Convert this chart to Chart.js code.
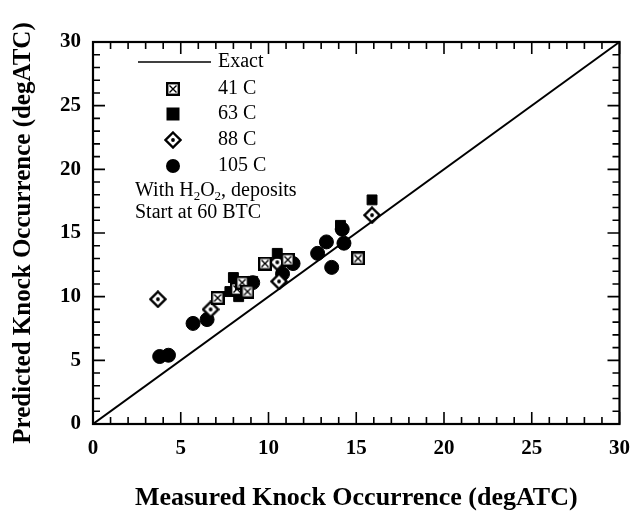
<!DOCTYPE html>
<html>
<head>
<meta charset="utf-8">
<script src="https://cdn.jsdelivr.net/npm/chart.js@4"></script>
<style>
  html, body { margin: 0; padding: 0; background: #fff; }
  #wrap { width: 642px; height: 511px; }
</style>
</head>
<body>
<div id="wrap"><canvas id="knockChart" width="642" height="511"></canvas></div>
<script>
// Exact line (y = x)
const exactX = [0, 30];
const exactY = [0, 30];

// 41 C
const c41X = [7.1, 8.2, 8.5, 8.8, 9.8, 11.1, 15.1];
const c41Y = [9.9, 10.6, 11.1, 10.4, 12.6, 12.9, 13.0];
// 63 C
const c63X = [7.8, 8.0, 8.3, 9.1, 10.5, 14.1, 15.9];
const c63Y = [10.4, 11.5, 10.0, 11.2, 13.4, 15.6, 17.6];
// 88 C
const c88X = [3.7, 6.7, 8.6, 10.5, 10.6, 15.9];
const c88Y = [9.8, 9.0, 10.7, 12.7, 11.2, 16.4];
// 105 C
const c105X = [3.8, 4.3, 5.7, 6.5, 9.1, 10.8, 11.4, 12.8, 13.3, 13.6, 14.3, 14.2];
const c105Y = [5.3, 5.4, 7.9, 8.2, 11.1, 11.8, 12.6, 13.4, 14.3, 12.3, 14.2, 15.3];

const axisTicks = [0, 5, 10, 15, 20, 25, 30];

const toPoints = (xs, ys) => xs.map((x, i) => ({ x: x, y: ys[i] }));

// marker images
function boxXMarker() {
    const c = document.createElement('canvas');
    c.width = 14; c.height = 14;
    const g = c.getContext('2d');
    g.strokeStyle = '#000';
    g.lineWidth = 2.4;
    g.fillStyle = '#fff';
    g.fillRect(1, 1, 12, 12);
    g.strokeRect(1.2, 1.2, 11.6, 11.6);
    g.lineWidth = 1.4;
    g.beginPath();
    g.moveTo(3.5, 3.5); g.lineTo(10.5, 10.5);
    g.moveTo(10.5, 3.5); g.lineTo(3.5, 10.5);
    g.stroke();
    return c;
}
function diamondMarker() {
    const c = document.createElement('canvas');
    c.width = 18; c.height = 18;
    const g = c.getContext('2d');
    g.strokeStyle = '#000';
    g.lineWidth = 2.4;
    g.fillStyle = '#fff';
    g.beginPath();
    g.moveTo(9, 1.5); g.lineTo(16.5, 9); g.lineTo(9, 16.5); g.lineTo(1.5, 9);
    g.closePath();
    g.fill();
    g.stroke();
    g.fillStyle = '#000';
    g.beginPath();
    g.arc(9, 9, 1.9, 0, Math.PI * 2);
    g.fill();
    return c;
}

const boxImg = boxXMarker();
const diaImg = diamondMarker();

const serif = "'Liberation Serif', 'DejaVu Serif', serif";

const frameAndTicks = {
    id: 'frameAndTicks',
    afterDatasetsDraw(chart) {
        const { ctx, chartArea: a, scales } = chart;
        ctx.save();
        ctx.strokeStyle = '#000';
        ctx.lineWidth = 1.6;
        for (let v = 0; v <= 30; v++) {
            const len = v % 5 === 0 ? 12 : 7;
            const px = scales.x.getPixelForValue(v);
            const py = scales.y.getPixelForValue(v);
            ctx.beginPath();
            ctx.moveTo(px, a.bottom); ctx.lineTo(px, a.bottom - len);
            ctx.moveTo(px, a.top); ctx.lineTo(px, a.top + len);
            ctx.moveTo(a.left, py); ctx.lineTo(a.left + len, py);
            ctx.moveTo(a.right, py); ctx.lineTo(a.right - len, py);
            ctx.stroke();
        }
        ctx.lineWidth = 2.2;
        ctx.strokeRect(a.left, a.top, a.right - a.left, a.bottom - a.top);
        ctx.restore();
    }
};

const insetLegend = {
    id: 'insetLegend',
    afterDraw(chart) {
        const { ctx, chartArea: a } = chart;
        const x0 = a.left;
        const y0 = a.top;
        const tx0 = x0 + 125;
        ctx.save();
        ctx.fillStyle = '#000';
        ctx.strokeStyle = '#000';
        ctx.font = '20px ' + serif;
        ctx.textBaseline = 'middle';
        // Exact
        ctx.lineWidth = 1.6;
        ctx.beginPath();
        ctx.moveTo(x0 + 45, y0 + 20); ctx.lineTo(x0 + 118, y0 + 20);
        ctx.stroke();
        ctx.fillText('Exact', tx0, y0 + 20);
        const mx = x0 + 80;
        // 41 C
        ctx.drawImage(boxImg, mx - 7, y0 + 47 - 7);
        ctx.fillText('41 C', tx0, y0 + 47);
        // 63 C
        ctx.fillRect(mx - 6.5, y0 + 72 - 6.5, 13, 13);
        ctx.fillText('63 C', tx0, y0 + 72);
        // 88 C
        ctx.drawImage(diaImg, mx - 9, y0 + 98 - 9);
        ctx.fillText('88 C', tx0, y0 + 98);
        // 105 C
        ctx.beginPath();
        ctx.arc(mx, y0 + 124, 7, 0, Math.PI * 2);
        ctx.fill();
        ctx.fillText('105 C', tx0, y0 + 124);
        // note
        let tx = x0 + 42;
        const ty = y0 + 149;
        const parts = [['With H', false], ['2', true], ['O', false], ['2', true], [', deposits', false]];
        parts.forEach(([t, sub]) => {
            ctx.font = (sub ? '13px ' : '20px ') + serif;
            ctx.fillText(t, tx, sub ? ty + 6 : ty);
            tx += ctx.measureText(t).width;
        });
        ctx.font = '20px ' + serif;
        ctx.fillText('Start at 60 BTC', x0 + 42, y0 + 171);
        ctx.restore();
    }
};

new Chart(document.getElementById('knockChart'), {
    type: 'scatter',
    data: {
        datasets: [
            {
                label: 'Exact',
                type: 'line',
                data: toPoints(exactX, exactY),
                borderColor: '#000',
                borderWidth: 2,
                pointRadius: 0,
                fill: false
            },
            {
                label: '41 C',
                data: toPoints(c41X, c41Y),
                pointStyle: boxImg
            },
            {
                label: '63 C',
                data: toPoints(c63X, c63Y),
                pointStyle: 'rect',
                pointRadius: 7,
                backgroundColor: '#000',
                borderColor: '#000'
            },
            {
                label: '88 C',
                data: toPoints(c88X, c88Y),
                pointStyle: diaImg
            },
            {
                label: '105 C',
                data: toPoints(c105X, c105Y),
                pointStyle: 'circle',
                pointRadius: 7,
                backgroundColor: '#000',
                borderColor: '#000'
            }
        ]
    },
    options: {
        responsive: false,
        animation: false,
        layout: { padding: { top: 42, right: 22, left: 0, bottom: 0 } },
        plugins: {
            legend: { display: false },
            tooltip: { enabled: false }
        },
        scales: {
            x: {
                type: 'linear',
                min: 0,
                max: 30,
                afterFit: s => { s.height = 87; },
                afterBuildTicks: s => { s.ticks = axisTicks.map(v => ({ value: v })); },
                grid: { display: false, drawTicks: false },
                border: { display: false },
                ticks: {
                    color: '#000',
                    padding: 12,
                    font: { family: serif, size: 21, weight: 'bold' }
                },
                title: {
                    display: true,
                    text: 'Measured Knock Occurrence (degATC)',
                    color: '#000',
                    padding: { top: 24, bottom: -3 },
                    font: { family: serif, size: 26, weight: 'bold' }
                }
            },
            y: {
                type: 'linear',
                min: 0,
                max: 30,
                afterFit: s => { s.width = 93; },
                afterBuildTicks: s => { s.ticks = axisTicks.map(v => ({ value: v })); },
                grid: { display: false, drawTicks: false },
                border: { display: false },
                ticks: {
                    color: '#000',
                    padding: 12,
                    font: { family: serif, size: 21, weight: 'bold' }
                },
                title: {
                    display: true,
                    text: 'Predicted Knock Occurrence (degATC)',
                    color: '#000',
                    padding: { top: 9, bottom: 0 },
                    font: { family: serif, size: 25, weight: 'bold' }
                }
            }
        }
    },
    plugins: [frameAndTicks, insetLegend]
});
</script>
</body>
</html>
